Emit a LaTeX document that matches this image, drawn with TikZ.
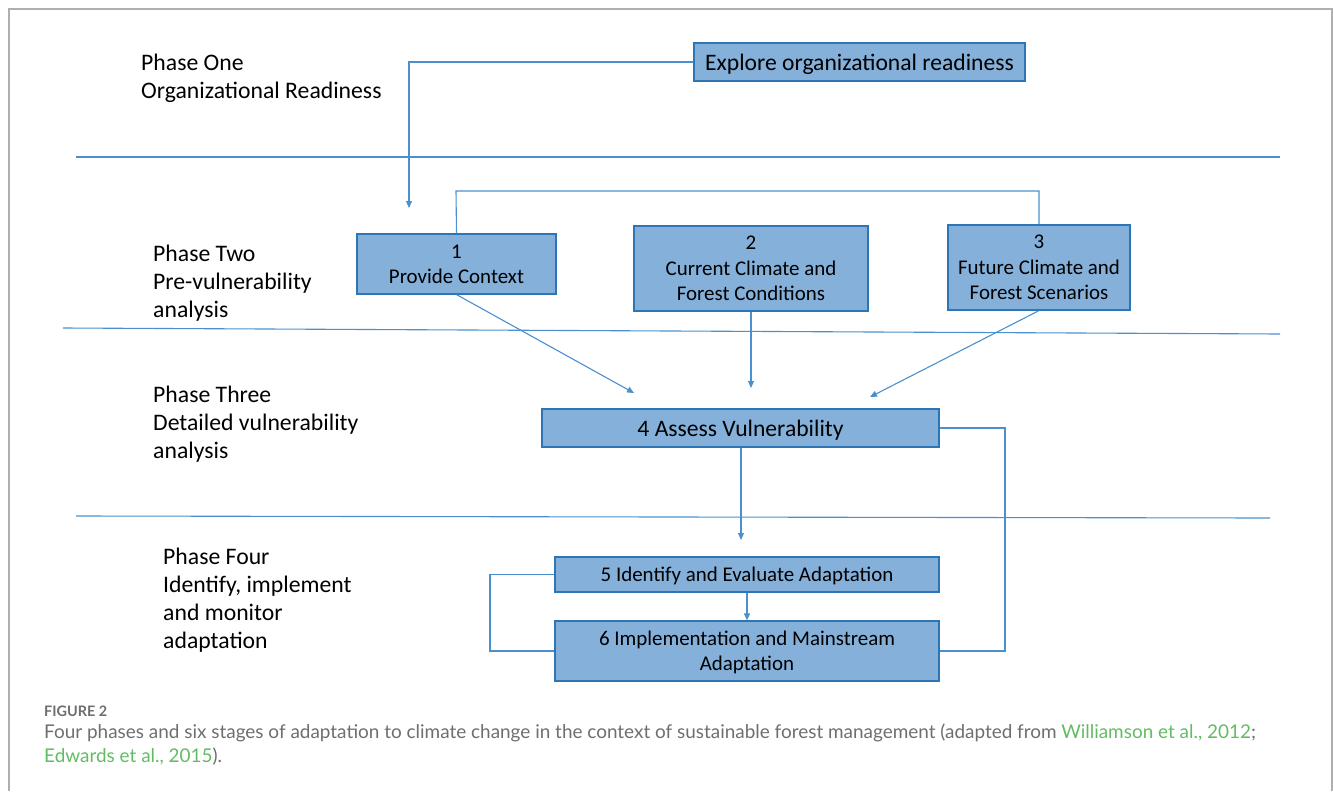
\documentclass[tikz,border=0pt]{standalone}
\usepackage{fontspec}
\setmainfont{Carlito}
\newfontfamily\capfont{Lato}
\usetikzlibrary{arrows.meta}

\definecolor{boxfill}{RGB}{132,176,218}
\definecolor{boxline}{RGB}{46,117,182}
\definecolor{linkblue}{RGB}{74,144,206}
\definecolor{framegray}{RGB}{175,175,175}
\definecolor{capgray}{RGB}{110,110,110}
\definecolor{capgreen}{RGB}{98,188,98}

\tikzset{
  stage/.style={shape=rectangle, draw=boxline, fill=boxfill, line width=1.2bp,
    align=center, inner sep=0pt, text depth=0pt, font=\fontsize{21}{25.5}\selectfont},
  phase/.style={anchor=west, align=left, inner sep=0pt,
    font=\fontsize{23.8}{28}\selectfont},
  link/.style={draw=linkblue, line width=1.1bp},
  tip/.style={-{Triangle[length=7bp,width=6bp]}},
}

\begin{document}
\begin{tikzpicture}[x=1bp,y=-1bp]
\useasboundingbox (0,0) rectangle (1333,791);
\draw [framegray, line width=1.5bp] (9,791) -- (9,9) -- (1332,9) -- (1332,791);

% phases
\path (141,78) node (p1) [phase] {Phase One\\Organizational Readiness};
\path (153,283) node (p2) [phase] {Phase Two\\Pre-vulnerability\\analysis};
\path (153,424) node (p3) [phase] {Phase Three\\Detailed vulnerability\\analysis};
\path (163,600.5) node (p4) [phase] {Phase Four\\Identify, implement\\and monitor\\adaptation};

\draw [link] (76,157) -- (1280,157);
\draw [link] (63,328) -- (1280,334);
\draw [link] (76,516) -- (1270,518);

% stages
\path (859.5,62) node (expl) [stage, minimum width=331bp, minimum height=38bp,
  font=\fontsize{23.7}{28}\selectfont] {Explore organizational readiness};
\path (456.5,264) node (b1) [stage, minimum width=199bp, minimum height=60bp] {1\\Provide Context};
\path (751,268.5) node (b2) [stage, minimum width=234bp, minimum height=85bp] {2\\Current Climate and\\Forest Conditions};
\path (1039,267.5) node (b3) [stage, minimum width=182bp, minimum height=85bp] {3\\Future Climate and\\Forest Scenarios};
\path (740.5,428) node (b4) [stage, minimum width=397bp, minimum height=38bp,
  font=\fontsize{23.7}{28}\selectfont] {4 Assess Vulnerability};
\path (747,574.5) node (b5) [stage, minimum width=384bp, minimum height=35bp] {5 Identify and Evaluate Adaptation};
\path (747,651) node (b6) [stage, minimum width=384bp, minimum height=60bp] {6 Implementation and Mainstream\\Adaptation};

\coordinate (c0) at (409,208);
\coordinate (topbar) at (456,191);
\coordinate (c1) at (634,393);
\coordinate (c2) at (751,388);
\coordinate (c3) at (870,397);
\coordinate (c4) at (741,540);
\coordinate (rloop) at (1005,540);
\coordinate (lloop) at (490,612);

\draw [link, tip] (expl.west) -| (c0);
\draw [link] (b1.north) -- (topbar) -| (b3.north);
\draw [link, tip] (b1.south) -- (c1);
\draw [link, tip] (b2.south) -- (c2);
\draw [link, tip] (b3.south) -- (c3);
\draw [link, tip] (b4.south -| c4) -- (c4);
\draw [link, tip] (b5.south) -- (b6.north);
\draw [link] (b4.east) -| (rloop) |- (b6.east);
\draw [link] (b5.west) -| (lloop) |- (b6.west);

% caption
\path (44,711) node (fig) [anchor=west, inner sep=0pt, text=capgray,
  font=\capfont\bfseries\fontsize{14.5}{17}\selectfont] {FIGURE 2};
\path (44,733) node (cap1) [anchor=west, inner sep=0pt, text=capgray,
  font=\capfont\fontsize{19}{24}\selectfont]
  {Four phases and six stages of adaptation to climate change in the context of sustainable forest management (adapted from \textcolor{capgreen}{Williamson et al., 2012};};
\path (44,757) node (cap2) [anchor=west, inner sep=0pt, text=capgray,
  font=\capfont\fontsize{19}{24}\selectfont]
  {\textcolor{capgreen}{Edwards et al., 2015}).};
\end{tikzpicture}
\end{document}
